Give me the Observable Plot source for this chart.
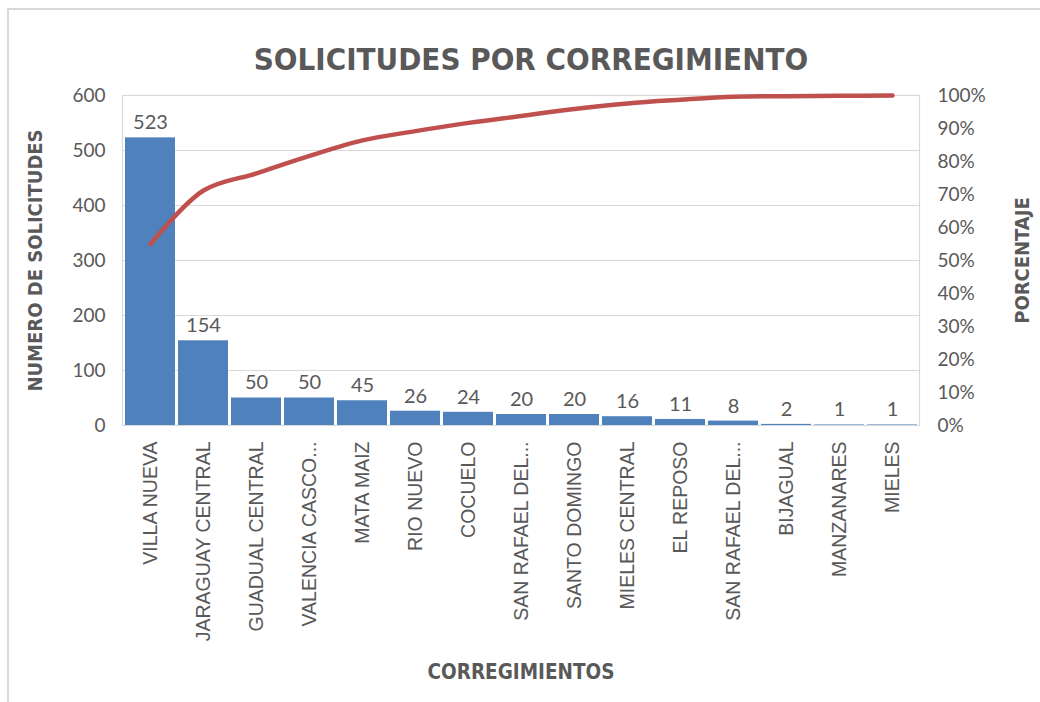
<!DOCTYPE html>
<html>
<head>
<meta charset="utf-8">
<script src="https://cdn.jsdelivr.net/npm/d3@7"></script>
<script src="https://cdn.jsdelivr.net/npm/@observablehq/plot@0.6"></script>
<style>
  html, body { margin: 0; padding: 0; background: #ffffff; }
  #wrap { position: relative; width: 1040px; height: 702px; overflow: hidden; background: #fff; }
  #border { position: absolute; left: 7px; top: 8px; width: 1100px; height: 800px;
            border-left: 2px solid #d9d9d9; border-top: 2px solid #d9d9d9; pointer-events: none; }
  #chart { position: absolute; left: 0; top: 0; }
</style>
</head>
<body>
<div id="wrap"><div id="chart"></div><div id="border"></div></div>
<script>
const titulo = "SOLICITUDES POR CORREGIMIENTO";
const tituloY = "NUMERO DE SOLICITUDES";
const tituloY2 = "PORCENTAJE";
const tituloX = "CORREGIMIENTOS";
const corregimientos = ["VILLA NUEVA", "JARAGUAY CENTRAL", "GUADUAL CENTRAL", "VALENCIA CASCO...", "MATA MAIZ",
  "RIO NUEVO", "COCUELO", "SAN RAFAEL DEL...", "SANTO DOMINGO", "MIELES CENTRAL", "EL REPOSO",
  "SAN RAFAEL DEL...", "BIJAGUAL", "MANZANARES", "MIELES"];
const solicitudes = [523, 154, 50, 50, 45, 26, 24, 20, 20, 16, 11, 8, 2, 1, 1];
const porcentaje = [55.0, 71.2, 76.4, 81.7, 86.4, 89.2, 91.7, 93.8, 95.9, 97.6, 98.7, 99.6, 99.8, 99.9, 100];
const ticksIzq = [0, 100, 200, 300, 400, 500, 600];
const ticksDer = [0, 10, 20, 30, 40, 50, 60, 70, 80, 90, 100];

const maxIzq = 600;
const k = maxIzq / 100; // percent -> left scale units
const rows = corregimientos.map((c, i) => ({i, c, v: solicitudes[i], p: porcentaje[i]}));

const grey = "#595959";
const numFont = "Lato, 'Open Sans', sans-serif";
const titleFont = "'Liberation Sans Narrow', 'DejaVu Sans Condensed', sans-serif";

const chart = Plot.plot({
  width: 1040,
  height: 702,
  marginLeft: 122,
  marginRight: 121,
  marginTop: 95,
  marginBottom: 277,
  style: {background: "transparent", color: grey, fontFamily: numFont},
  x: {type: "band", domain: rows.map(d => d.i), paddingInner: 0.06, paddingOuter: 0.01, align: 0.5},
  y: {domain: [0, maxIzq]},
  marks: [
    Plot.gridY(ticksIzq, {stroke: "#d9d9d9", strokeOpacity: 1, strokeWidth: 1.2}),
    Plot.frame({stroke: "#d9d9d9", strokeWidth: 1.2}),
    Plot.barY(rows, {x: "i", y: "v", fill: "#4F81BD"}),
    Plot.line(rows, {x: "i", y: d => d.p * k, stroke: "#C0504D", strokeWidth: 4.5, curve: "catmull-rom"}),
    Plot.text(rows, {x: "i", y: "v", text: d => String(d.v), dy: -15, fontSize: 20, fill: grey, fontFamily: numFont}),
    Plot.axisY(ticksIzq, {anchor: "left", tickSize: 0, tickPadding: 17, fontSize: 19, label: null, fill: grey}),
    Plot.axisY(ticksDer.map(p => p * k), {anchor: "right", tickSize: 0, tickPadding: 18, fontSize: 19, label: null,
      tickFormat: v => `${Math.round(v / k)}%`, fill: grey}),
    Plot.axisX({anchor: "bottom", tickSize: 0, tickPadding: 16, tickRotate: -90, textAnchor: "end", lineAnchor: "middle",
      fontSize: 19.5, fontFamily: "'Liberation Sans', Arial, sans-serif", label: null,
      tickFormat: i => corregimientos[i], fill: grey}),
    Plot.text([titulo], {text: d => d, frameAnchor: "top", dy: -48, dx: 10, fontSize: 31, fontWeight: "bold",
      fontFamily: titleFont, fill: grey}),
    Plot.text([tituloY], {text: d => d, frameAnchor: "left", textAnchor: "middle", dx: -87, rotate: -90, fontSize: 20,
      fontWeight: "bold", fontFamily: titleFont, fill: grey}),
    Plot.text([tituloY2], {text: d => d, frameAnchor: "right", textAnchor: "middle", dx: 103, rotate: -90, fontSize: 20,
      fontWeight: "bold", fontFamily: titleFont, fill: grey}),
    Plot.text([tituloX], {text: d => d, frameAnchor: "bottom", dy: 253, fontSize: 20.5, fontWeight: "bold",
      fontFamily: titleFont, fill: grey})
  ]
});
document.getElementById("chart").appendChild(chart);
</script>
</body>
</html>
